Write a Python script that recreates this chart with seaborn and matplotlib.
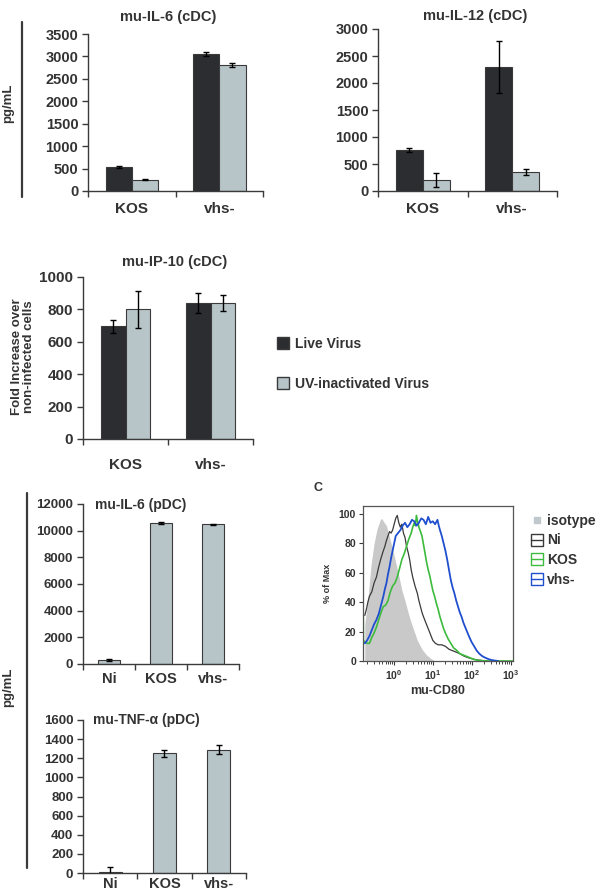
import numpy as np
import pandas as pd
import matplotlib
matplotlib.use('Agg')
import matplotlib.pyplot as plt
import seaborn as sns
from matplotlib.lines import Line2D

sns.set_style('ticks')
plt.rcParams['font.family'] = ['Liberation Sans', 'DejaVu Sans']
plt.rcParams['font.weight'] = 'bold'
plt.rcParams['axes.labelweight'] = 'bold'
plt.rcParams['mathtext.default'] = 'bf'

# ---- data ----
strains = ['KOS', 'vhs-']
treatments = ['Live Virus', 'UV-inactivated Virus']

il6_cdc_live = [540, 3060]
il6_cdc_uv = [250, 2810]
il6_cdc_live_err = [25, 45]
il6_cdc_uv_err = [15, 50]

il12_cdc_live = [760, 2290]
il12_cdc_uv = [200, 350]
il12_cdc_live_err = [40, 480]
il12_cdc_uv_err = [130, 60]

ip10_cdc_live = [695, 838]
ip10_cdc_uv = [800, 840]
ip10_cdc_live_err = [40, 62]
ip10_cdc_uv_err = [115, 50]

pdc_groups = ['Ni', 'KOS', 'vhs-']
il6_pdc = [300, 10550, 10480]
il6_pdc_err = [40, 70, 40]
tnf_pdc = [15, 1250, 1290]
tnf_pdc_err = [45, 40, 50]

# flow histogram, x as log10(mu-CD80), y as % of max
iso_logx = [-0.754, -0.675, -0.595, -0.516, -0.437, -0.357, -0.317, -0.278, -0.198, -0.119,
            -0.040, 0.040, 0.119, 0.198, 0.278, 0.357, 0.437, 0.516, 0.595, 0.714,
            0.833, 0.952, 1.046]
iso_pct = [25, 42, 65, 80, 90, 96, 97, 95, 92, 84,
           76, 67, 58, 48, 41, 33, 26, 20, 14, 8,
           4, 1.5, 0]
ni_logx = [-0.754, -0.714, -0.675, -0.635, -0.575, -0.516, -0.456, -0.397, -0.337, -0.278,
           -0.238, -0.198, -0.159, -0.119, -0.079, -0.040, 0.000, 0.040, 0.079, 0.119,
           0.159, 0.198, 0.238, 0.278, 0.317, 0.357, 0.397, 0.437, 0.476, 0.535,
           0.595, 0.635, 0.675, 0.714, 0.754, 0.813, 0.873, 0.933, 0.992, 1.060,
           1.130, 1.222, 1.315, 1.407, 1.500, 1.593, 1.685, 1.778, 1.870, 2.000,
           2.140, 2.270, 2.404]
ni_pct = [31, 35, 40, 44, 47, 53, 57, 64, 70, 75,
          78, 82, 85, 88, 87, 89, 93, 97, 99, 94,
          91, 93, 87, 84, 78, 74, 69, 62, 57, 51,
          46, 41, 37, 33, 30, 26, 22, 18, 14, 12,
          11, 11, 10, 8, 7, 6, 5, 3.5, 2.5, 1.5,
          0.7, 0.3, 0]
kos_logx = [-0.800, -0.800, -0.790, -0.754, -0.695, -0.635, -0.575, -0.516, -0.456, -0.397,
            -0.337, -0.278, -0.218, -0.159, -0.099, -0.040, 0.020, 0.079, 0.139, 0.198,
            0.258, 0.317, 0.377, 0.437, 0.476, 0.516, 0.546, 0.571, 0.600, 0.635,
            0.675, 0.714, 0.754, 0.794, 0.833, 0.873, 0.913, 0.952, 0.992, 1.037,
            1.085, 1.130, 1.176, 1.222, 1.269, 1.315, 1.385, 1.454, 1.523, 1.593,
            1.685, 1.778, 1.870, 1.963, 2.050, 2.140, 2.270, 2.404, 3.050]
kos_pct = [0, 100, 14, 13, 12, 12, 16, 19, 23, 28,
           33, 37, 38, 41, 47, 51, 53, 57, 63, 69,
           73, 78, 83, 87, 91, 94, 92, 99, 95, 91,
           88, 85, 79, 73, 67, 62, 58, 53, 48, 44,
           39, 35, 30, 26, 22, 19, 15, 12, 9, 7.5,
           5, 4, 3, 2, 1, 0.5, 0.2, 0, 0]
vhs_logx = [-0.754, -0.695, -0.635, -0.575, -0.516, -0.456, -0.397, -0.337, -0.278, -0.238,
            -0.198, -0.159, -0.119, -0.079, -0.040, 0.000, 0.040, 0.099, 0.159, 0.218,
            0.278, 0.337, 0.397, 0.456, 0.516, 0.575, 0.635, 0.695, 0.754, 0.813,
            0.873, 0.933, 0.992, 1.050, 1.111, 1.145, 1.176, 1.222, 1.269, 1.315,
            1.361, 1.407, 1.454, 1.500, 1.546, 1.593, 1.639, 1.685, 1.731, 1.778,
            1.824, 1.870, 1.917, 1.985, 2.053, 2.120, 2.184, 2.250, 2.316, 2.400,
            2.491, 2.580, 2.667]
vhs_pct = [12, 14, 17, 21, 25, 28, 32, 38, 44, 49,
           53, 59, 64, 70, 75, 80, 85, 87, 89, 92,
           94, 91, 93, 96, 95, 92, 94, 97, 96, 93,
           98, 94, 95, 93, 96, 92, 89, 85, 80, 75,
           69, 62, 55, 50, 46, 41, 37, 33, 30, 26,
           23, 20, 17, 13, 10, 7, 5, 3.5, 2.5, 1.5,
           0.7, 0.3, 0]

DARK = '#2c2d31'
LIGHT = '#b7c4c8'
EDGE = '#3a3a3a'
TXT = '#333333'

W, H = 601, 890
fig = plt.figure(figsize=(W / 100, H / 100), dpi=100)


def px_axes(left, right, top, bottom):
    return fig.add_axes([left / W, 1 - bottom / H, (right - left) / W, (bottom - top) / H])


def style_axes(ax, ymax, ystep, tick_size, cat_size, cat_pad):
    sns.despine(ax=ax)
    ax.set_ylim(0, ymax)
    ax.set_yticks(np.arange(0, ymax + 1, ystep))
    ax.set_xlabel('')
    ax.set_ylabel('')
    ax.tick_params(axis='y', direction='out', length=4, width=1, colors=EDGE,
                   labelcolor=TXT, labelsize=tick_size, pad=3)
    ax.tick_params(axis='x', which='major', length=0, labelcolor=TXT,
                   labelsize=cat_size, pad=cat_pad)
    n = len(ax.get_xticks())
    ax.set_xlim(-0.5, n - 0.5)
    ax.set_xticks(np.arange(-0.5, n, 1.0), minor=True)
    ax.tick_params(axis='x', which='minor', direction='out', length=4, width=1, colors=EDGE)
    for s in ('left', 'bottom'):
        ax.spines[s].set_color(EDGE)
        ax.spines[s].set_linewidth(1)
    for lab in ax.get_yticklabels() + ax.get_xticklabels():
        lab.set_fontweight('bold')


def grouped(ax, live, uv, live_err, uv_err, width, ymax, ystep, tick_size, cat_pad):
    df = pd.DataFrame({
        'strain': strains * 2,
        'treatment': [treatments[0]] * 2 + [treatments[1]] * 2,
        'value': live + uv,
    })
    sns.barplot(data=df, x='strain', y='value', hue='treatment', hue_order=treatments,
                palette=[DARK, LIGHT], saturation=1, width=width, errorbar=None,
                edgecolor=EDGE, linewidth=0.8, legend=False, ax=ax)
    for cont, errs in zip(ax.containers, [live_err, uv_err]):
        xs = [b.get_x() + b.get_width() / 2 for b in cont]
        ys = [b.get_height() for b in cont]
        ax.errorbar(xs, ys, yerr=errs, fmt='none', ecolor='black', elinewidth=1,
                    capsize=2.5, capthick=1)
    style_axes(ax, ymax, ystep, tick_size, 11, cat_pad)


def single(ax, vals, errs, ymax, ystep, cat_pad):
    sns.barplot(x=pdc_groups, y=vals, color=LIGHT, saturation=1, width=0.42,
                errorbar=None, edgecolor=EDGE, linewidth=0.8, ax=ax)
    cont = ax.containers[0]
    xs = [b.get_x() + b.get_width() / 2 for b in cont]
    ax.errorbar(xs, vals, yerr=errs, fmt='none', ecolor='black', elinewidth=1,
                capsize=2.5, capthick=1)
    style_axes(ax, ymax, ystep, 9.5, 10.5, cat_pad)


# ---- panel A: cDC ----
ax1 = px_axes(88, 263, 34, 191)
grouped(ax1, il6_cdc_live, il6_cdc_uv, il6_cdc_live_err, il6_cdc_uv_err, 0.6, 3500, 500,
        10.5, 8)
fig.text(168 / W, 1 - 17 / H, 'mu-IL-6 (cDC)', ha='center', va='center',
         fontsize=10.5, fontweight='bold', color=TXT)

ax2 = px_axes(378, 557, 29, 191)
grouped(ax2, il12_cdc_live, il12_cdc_uv, il12_cdc_live_err, il12_cdc_uv_err, 0.6, 3000, 500,
        10.5, 8)
fig.text(475 / W, 1 - 16 / H, 'mu-IL-12 (cDC)', ha='center', va='center',
         fontsize=10.5, fontweight='bold', color=TXT)

ax3 = px_axes(83, 253, 277, 439)
grouped(ax3, ip10_cdc_live, ip10_cdc_uv, ip10_cdc_live_err, ip10_cdc_uv_err, 0.58, 1000, 200,
        11, 14)
fig.text(175 / W, 1 - 262 / H, 'mu-IP-10 (cDC)', ha='center', va='center',
         fontsize=10.5, fontweight='bold', color=TXT)
fig.text(23 / W, 1 - 357 / H, 'Fold Increase over\nnon-infected cells', rotation=90,
         ha='center', va='center', multialignment='center', fontsize=9.5,
         fontweight='bold', color=TXT, linespacing=1.1)

fig.add_artist(Line2D([22 / W, 22 / W], [1 - 22 / H, 1 - 197 / H], color=EDGE, lw=1.6))
fig.text(8 / W, 1 - 103 / H, 'pg/mL', rotation=90, ha='center', va='center',
         fontsize=9.5, fontweight='bold', color=TXT)

handles = [Line2D([], [], marker='s', ls='', ms=8, mfc=DARK, mec=EDGE),
           Line2D([], [], marker='s', ls='', ms=8, mfc=LIGHT, mec=EDGE)]
fig.legend(handles, treatments, loc='center left', bbox_to_anchor=(264 / W, 1 - 364 / H),
           frameon=False, labelspacing=1.9, handletextpad=0.3,
           handlelength=1.0, labelcolor=TXT, prop={'weight': 'bold', 'size': 10})

# ---- panel B: pDC ----
ax4 = px_axes(83, 239, 504, 664)
single(ax4, il6_pdc, il6_pdc_err, 12000, 2000, 6)
fig.text(95 / W, 1 - 505 / H, 'mu-IL-6 (pDC)', ha='left', va='center',
         fontsize=10, fontweight='bold', color=TXT)

ax5 = px_axes(83, 246, 720, 873)
single(ax5, tnf_pdc, tnf_pdc_err, 1600, 200, 3)
fig.text(93 / W, 1 - 720 / H, 'mu-TNF-\u03b1 (pDC)', ha='left', va='center',
         fontsize=10, fontweight='bold', color=TXT)

fig.add_artist(Line2D([27 / W, 27 / W], [1 - 493 / H, 1 - 868 / H], color=EDGE, lw=1.6))
fig.text(8 / W, 1 - 687 / H, 'pg/mL', rotation=90, ha='center', va='center',
         fontsize=9.5, fontweight='bold', color=TXT)

# ---- panel C: flow histogram ----
axc = px_axes(363, 513, 506, 661)
iso_x = [10 ** v for v in iso_logx]
axc.fill_between(iso_x, 0, iso_pct, color='#c9c9c9', lw=0)
sns.lineplot(x=[10 ** v for v in ni_logx], y=ni_pct, sort=False, color='#3a3a3a',
             lw=0.9, ax=axc)
sns.lineplot(x=[10 ** v for v in kos_logx], y=kos_pct, sort=False, color='#3dbb3d',
             lw=1.2, ax=axc)
sns.lineplot(x=[10 ** v for v in vhs_logx], y=vhs_pct, sort=False, color='#1f4fcf',
             lw=1.3, ax=axc)
axc.set_xscale('log')
axc.set_xlim(10 ** -0.8, 10 ** 3.05)
axc.set_ylim(0, 105.4)
axc.set_yticks([0, 20, 40, 60, 80, 100])
axc.set_xticks([1, 10, 100, 1000])
axc.tick_params(axis='both', which='major', labelsize=7.5, length=3, colors=EDGE,
                labelcolor=TXT, pad=2)
axc.tick_params(axis='x', which='minor', length=2)
for s in axc.spines.values():
    s.set_color('#555555')
    s.set_linewidth(0.9)
axc.set_xlabel('mu-CD80', fontsize=9, fontweight='bold', color=TXT, labelpad=2)
axc.set_ylabel('% of Max', fontsize=6.5, fontweight='bold', color=TXT, labelpad=5)
for lab in axc.get_yticklabels() + axc.get_xticklabels():
    lab.set_fontweight('bold')

fig.text(318 / W, 1 - 488 / H, 'C', ha='center', va='center', fontsize=9,
         fontweight='bold', color=TXT)

hist_handles = [Line2D([], [], marker='s', ls='', ms=5, mfc='#c0c8cc', mec='#c0c8cc')]
for c in ['#3a3a3a', '#3dbb3d', '#1f4fcf']:
    hist_handles.append(Line2D([], [], marker='s', ls='-', lw=1, color=c, ms=8,
                               mfc='none', mec=c, mew=1))
fig.legend(hist_handles, ['isotype', 'Ni', 'KOS', 'vhs-'], loc='upper left',
           bbox_to_anchor=(524 / W, 1 - 507 / H), frameon=False,
           labelspacing=0.4, handletextpad=0.35, handlelength=0.8, borderpad=0,
           labelcolor=TXT, prop={'weight': 'bold', 'size': 10})

fig.savefig('out.png', dpi=100)
